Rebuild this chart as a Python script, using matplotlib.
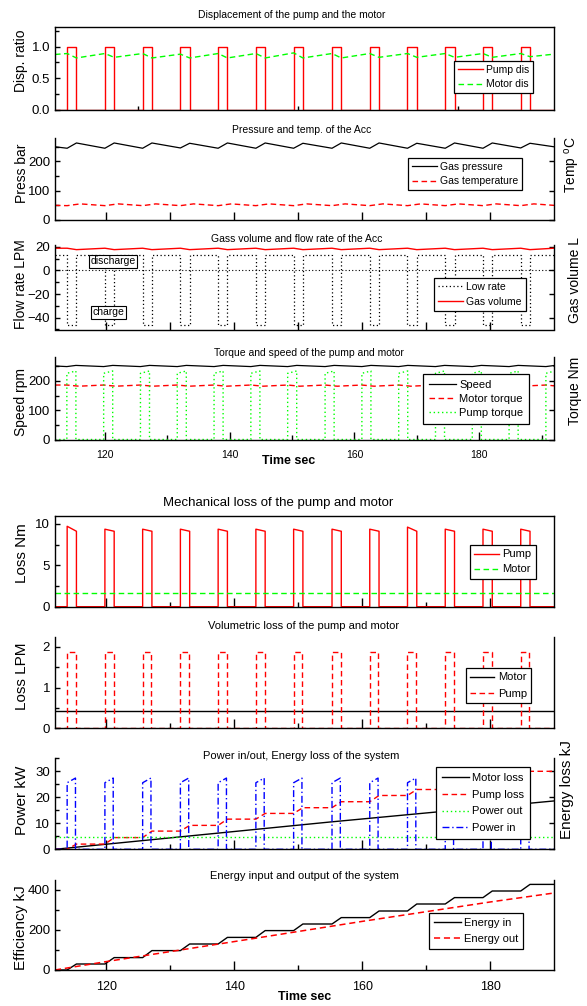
import numpy as np
import matplotlib
matplotlib.use("Agg")
import matplotlib.pyplot as plt
from matplotlib.ticker import MultipleLocator, FixedLocator

plt.rcParams['font.family'] = ['Liberation Sans', 'DejaVu Sans']
plt.rcParams['mathtext.fontset'] = 'custom'
plt.rcParams['mathtext.rm'] = 'Liberation Sans'
plt.rcParams['axes.linewidth'] = 1.0

# ---------------- data ----------------
t_start, t_end = 112.0, 190.0          # s
t_end_torque = 192.0
pulse_t = [113.9, 119.8, 125.7, 131.6, 137.5, 143.4, 149.3,
           155.3, 161.2, 167.1, 173.0, 178.9, 184.8]   # pump on
pulse_t_torque = pulse_t + [190.7]
pulse_w = 1.45                                       # pump on time, s

# displacement
pump_dis_on = 1.0
motor_dis_peak = [0.89, 0.89, 0.89, 0.88, 0.89, 0.89, 0.90, 0.89, 0.89, 0.89, 0.89, 0.89, 0.89]
motor_dis_dip = [0.82, 0.83, 0.82, 0.82, 0.82, 0.82, 0.82, 0.82, 0.83, 0.83, 0.83, 0.83, 0.84]
motor_dis_ends = [0.875, 0.88]

# accumulator pressure / temperature
gas_p_low = [245, 245, 245, 246, 245, 245, 245, 245, 245, 245, 245, 245, 246]
gas_p_high = [263, 263, 263, 262, 263, 263, 262, 263, 263, 262, 263, 263, 262]
gas_p_ends = [250, 250]
gas_temp_low = 49
gas_temp_high = 55
gas_temp_ends = [50, 50]

# accumulator flow / volume
flow_discharge = 13
flow_charge = -46
gas_vol_high = 18.7
gas_vol_low = 17.5

# torque / speed
speed_on = 249
speed_off = 253
speed_ends = [251, 251]
motor_tq_on = 186
motor_tq_off = 182
pump_tq_a = 226
pump_tq_b = 234

# mechanical loss
mech_pump_a = [9.7, 9.35, 9.35, 9.35, 9.35, 9.35, 9.35, 9.35, 9.35, 9.6, 9.35, 9.35, 9.35]
mech_pump_b = 9.1
mech_motor = 1.7

# volumetric loss
vol_pump = 1.87
vol_motor = 0.42

# power / energy loss
power_in_a = 25.6
power_in_b = 27.4
power_out = 4.9
motor_loss_t = [112, 155, 190]
motor_loss = [0, 10.5, 18.6]
pump_loss_steps = [2.0, 4.5, 7.0, 9.2, 11.6, 13.8, 16.0, 18.3, 20.7, 23.0, 25.3, 27.6, 30.0]

# energy in / out
energy_in_steps = [30, 62, 97, 130, 163, 197, 230, 262, 295, 330, 362, 395, 428]
energy_out_t = [112, 120, 140, 160, 180, 190]
energy_out = [0, 42, 142, 243, 340, 385]


# ---------------- helpers ----------------
def _arr(v, n):
    return np.broadcast_to(np.asarray(v, dtype=float), (n,))


def pulses(starts, width, top_a, top_b, t0, t1, base=0.0):
    n = len(starts)
    t, y = [t0], [base]
    for s, a, b in zip(starts, _arr(top_a, n), _arr(top_b, n)):
        t += [s, s, s + width, s + width]
        y += [base, a, b, base]
    t.append(t1)
    y.append(base)
    return t, y


def cycles(starts, width, at_on, at_off, t0, y0, t1, y1):
    n = len(starts)
    t, y = [t0], [y0]
    for s, a, b in zip(starts, _arr(at_on, n), _arr(at_off, n)):
        t += [s, s + width]
        y += [a, b]
    t.append(t1)
    y.append(y1)
    return t, y


def stairs(starts, width, levels, t0, t1, y0=0.0):
    t, y = [t0], [y0]
    prev = y0
    for s, v in zip(starts, levels):
        t += [s, s + width]
        y += [prev, v]
        prev = v
    t.append(t1)
    y.append(prev)
    return t, y


W, H = 587, 1006
fig = plt.figure(figsize=(W / 100, H / 100), dpi=100)

RED, GREEN, BLUE = '#ff0000', '#00ff00', '#0000ff'
DASH = (0, (4, 2.5))
DOT = (0, (1, 2))


def new_axes(l, t, r, b, box=False):
    ax = fig.add_axes([l / W, 1 - b / H, (r - l) / W, (b - t) / H])
    ax.spines['top'].set_visible(box)
    ax.tick_params(which='both', direction='in', top=False, right=False,
                   labelbottom=False, labelsize=9.5, width=1.0)
    ax.tick_params(which='major', axis='y', length=3.6)
    ax.tick_params(which='minor', axis='y', length=2.9)
    return ax


def title_at(x, y, s, fs):
    fig.text(x / W, 1 - y / H, s, ha='center', va='baseline', fontsize=fs)


def ylabel_at(x, y, s, fs):
    fig.text(x / W, 1 - y / H, s, ha='center', va='center', rotation=90, fontsize=fs)


def legend_at(ax, x, y, fs, ls=0.5, bp=0.5, hl=2.4):
    leg = ax.legend(loc='upper left', bbox_to_anchor=(x / W, 1 - y / H),
                    bbox_transform=fig.transFigure, borderaxespad=0, fontsize=fs,
                    frameon=True, fancybox=False, framealpha=1, edgecolor='black',
                    handlelength=hl, handletextpad=0.3, borderpad=bp, labelspacing=ls)
    leg.get_frame().set_linewidth(0.9)
    return leg


# ================= top group =================
L, R = 55, 554

# --- displacement
ax = new_axes(L, 27.5, R, 110, box=True)
t, y = pulses(pulse_t, pulse_w, pump_dis_on, pump_dis_on, t_start, t_end)
ax.plot(t, y, color=RED, lw=1.0, label='Pump dis')
t, y = cycles(pulse_t, pulse_w, motor_dis_peak, motor_dis_dip,
              t_start, motor_dis_ends[0], t_end, motor_dis_ends[1])
ax.plot(t, y, color=GREEN, lw=1.0, ls=DASH, label='Motor dis')
ax.set_xlim(t_start, t_end)
ax.set_ylim(0, 1.3)
ax.xaxis.set_major_locator(FixedLocator([125, 150, 175]))
ax.tick_params(axis='x', length=3)
ax.yaxis.set_major_locator(MultipleLocator(0.5))
ax.yaxis.set_minor_locator(MultipleLocator(0.25))
ax.yaxis.set_major_formatter('{x:.1f}')
legend_at(ax, 454, 61, 7.5, ls=0.45, bp=0.35)
title_at(292, 18, 'Displacement of the pump and the motor', 7.5)
ylabel_at(21.5, 61, 'Disp. ratio', 10)

# --- pressure and temperature
ax = new_axes(L, 138, R, 220)
t, y = cycles(pulse_t, pulse_w, gas_p_low, gas_p_high, t_start, gas_p_ends[0], t_end, gas_p_ends[1])
ax.plot(t, y, color='black', lw=0.9, label='Gas pressure')
t, y = cycles(pulse_t, pulse_w + 0.6, gas_temp_low, gas_temp_high,
              t_start, gas_temp_ends[0], t_end, gas_temp_ends[1])
ax.plot(t, y, color=RED, lw=1.0, ls=DASH, label='Gas temperature')
ax.set_xlim(t_start, t_end)
ax.set_ylim(0, 280)
ax.xaxis.set_major_locator(FixedLocator(range(120, 190, 10)))
ax.tick_params(axis='x', length=5.5)
ax.yaxis.set_major_locator(MultipleLocator(100))
ax.yaxis.set_minor_locator(MultipleLocator(50))
ax.tick_params(which='major', axis='y', right=True)
legend_at(ax, 408, 158, 7.5, ls=0.45, bp=0.35)
title_at(302, 133, 'Pressure and temp. of the Acc', 7.5)
ylabel_at(21.5, 173.5, 'Press bar', 10)
ylabel_at(573, 165, 'Temp $^\\mathrm{o}$C', 10)

# --- flow rate and gas volume
ax = new_axes(L, 245.5, R, 329.5)
t, y = pulses(pulse_t, pulse_w, flow_charge, flow_charge, t_start, t_end, base=flow_discharge)
ax.plot(t, y, color='black', lw=0.9, ls=DOT, label='Low rate')
ax.axhline(0, color='black', lw=0.8, ls=DOT)
t, y = cycles(pulse_t, pulse_w, gas_vol_high, gas_vol_low, t_start, gas_vol_high, t_end, gas_vol_high)
ax.plot(t, y, color=RED, lw=1.0, label='Gas volume')
ax.set_xlim(t_start, t_end)
ax.set_ylim(-50, 21)
ax.xaxis.set_major_locator(FixedLocator(range(120, 190, 10)))
ax.tick_params(axis='x', length=5.5)
ax.yaxis.set_major_locator(MultipleLocator(20))
ax.yaxis.set_minor_locator(MultipleLocator(10))
ax.tick_params(which='major', axis='y', right=True)
box = dict(boxstyle='square,pad=0.15', fc='white', ec='black', lw=0.8)
ax.text(121.1, 7.8, 'discharge', fontsize=7.5, ha='center', va='center', bbox=box)
ax.text(120.3, -35.4, 'charge', fontsize=7.5, ha='center', va='center', bbox=box)
legend_at(ax, 434, 277.7, 7.5, ls=0.45, bp=0.4)
title_at(297, 242, 'Gass volume and flow rate of the Acc', 7.5)
ylabel_at(21.5, 284, 'Flow rate LPM', 10)
ylabel_at(575, 280, 'Gas volume L', 10)

# --- torque and speed
ax = new_axes(L, 357.5, R, 439.5)
t, y = cycles(pulse_t_torque, pulse_w, speed_on, speed_off, t_start, speed_ends[0],
              t_end_torque, speed_ends[1])
ax.plot(t, y, color='black', lw=0.9, label='Speed')
t, y = cycles(pulse_t_torque, pulse_w + 0.5, motor_tq_on, motor_tq_off, t_start, motor_tq_on,
              t_end_torque, motor_tq_on)
ax.plot(t, y, color=RED, lw=1.0, ls=DASH, label='Motor torque')
t, y = pulses(pulse_t_torque, pulse_w, pump_tq_a, pump_tq_b, t_start, t_end_torque)
ax.plot(t, y, color=GREEN, lw=1.0, ls=DOT, label='Pump torque')
ax.set_xlim(t_start, t_end_torque)
ax.set_ylim(0, 280)
ax.xaxis.set_major_locator(FixedLocator([120, 140, 160, 180]))
ax.xaxis.set_minor_locator(FixedLocator([130, 150, 170, 190]))
ax.tick_params(axis='x', which='major', length=6, labelbottom=True, labelsize=7.5, pad=7.5)
ax.tick_params(axis='x', which='minor', length=3.6)
ax.yaxis.set_major_locator(MultipleLocator(100))
ax.yaxis.set_minor_locator(MultipleLocator(50))
ax.tick_params(which='major', axis='y', right=True)
legend_at(ax, 423, 374, 8, ls=0.35, bp=0.55)
title_at(309, 355.5, 'Torque and speed of the pump and motor', 7.5)
ylabel_at(21.5, 401.5, 'Speed rpm', 10)
ylabel_at(575, 391, 'Torque Nm', 10)
fig.text(289 / W, 1 - 461 / H, 'Time sec', ha='center', va='center', fontsize=9, fontweight='bold')

# ================= bottom group =================


def bottom_x(ax, labels=False):
    ax.set_xlim(t_start, t_end)
    ax.xaxis.set_major_locator(FixedLocator([120, 140, 160, 180]))
    ax.xaxis.set_minor_locator(FixedLocator([130, 150, 170]))
    ax.tick_params(axis='x', which='major', length=6.5, labelbottom=labels, labelsize=9, pad=8)
    ax.tick_params(axis='x', which='minor', length=3.6)


# --- mechanical loss
ax = new_axes(L, 515.5, R, 606.7, box=True)
t, y = pulses(pulse_t, pulse_w, mech_pump_a, mech_pump_b, t_start, t_end)
ax.plot(t, y, color=RED, lw=1.0, label='Pump')
ax.plot([t_start, t_end], [mech_motor, mech_motor], color=GREEN, lw=1.0, ls=DASH, label='Motor')
bottom_x(ax)
ax.set_ylim(0, 11)
ax.yaxis.set_major_locator(MultipleLocator(5))
ax.yaxis.set_minor_locator(MultipleLocator(2.5))
legend_at(ax, 470, 545, 8, ls=0.45, bp=0.4, hl=2.2)
title_at(278, 506, 'Mechanical loss of the pump and motor', 9.5)
ylabel_at(21.5, 553, 'Loss Nm', 11)

# --- volumetric loss
ax = new_axes(L, 636.7, R, 728.3)
ax.plot([t_start, t_end], [vol_motor, vol_motor], color='black', lw=1.0, label='Motor')
t, y = pulses(pulse_t, pulse_w - 0.1, vol_pump, vol_pump, t_start, t_end)
ax.plot(t, y, color=RED, lw=1.0, ls=DASH, label='Pump')
bottom_x(ax)
ax.set_ylim(0, 2.25)
ax.yaxis.set_major_locator(MultipleLocator(1))
ax.yaxis.set_minor_locator(MultipleLocator(0.5))
legend_at(ax, 465.5, 668, 8, ls=0.55, bp=0.4, hl=2.2)
title_at(304, 629, 'Volumetric loss of the pump and motor', 8)
ylabel_at(21.5, 676.5, 'Loss LPM', 11)

# --- power and energy loss
ax = new_axes(L, 758.3, R, 849.3)
ax.plot(motor_loss_t, motor_loss, color='black', lw=1.0, label='Motor loss')
t, y = stairs(pulse_t, pulse_w, pump_loss_steps, t_start, t_end)
ax.plot(t, y, color=RED, lw=1.0, ls=DASH, label='Pump loss')
ax.plot([t_start, t_end], [power_out, power_out], color=GREEN, lw=1.0, ls=DOT, label='Power out')
t, y = pulses(pulse_t, pulse_w - 0.15, power_in_a, power_in_b, t_start, t_end)
ax.plot(t, y, color=BLUE, lw=1.0, ls=(0, (5, 2, 1, 2)), label='Power in')
bottom_x(ax)
ax.set_ylim(0, 35)
ax.yaxis.set_major_locator(MultipleLocator(10))
ax.yaxis.set_minor_locator(MultipleLocator(5))
ax.tick_params(which='major', axis='y', right=True)
legend_at(ax, 436, 767, 8, ls=0.6, bp=0.55)
title_at(301, 759, 'Power in/out, Energy loss of the system', 8)
ylabel_at(21.5, 800, 'Power kW', 11)
ylabel_at(567, 790, 'Energy loss kJ', 11)

# --- energy in / out
ax = new_axes(L, 880, R, 970)
t, y = stairs(pulse_t, pulse_w, energy_in_steps, t_start, t_end)
ax.plot(t, y, color='black', lw=1.0, label='Energy in')
ax.plot(energy_out_t, energy_out, color=RED, lw=1.1, ls=DASH, label='Energy out')
bottom_x(ax, labels=True)
ax.set_ylim(0, 450)
ax.yaxis.set_major_locator(MultipleLocator(200))
ax.yaxis.set_minor_locator(MultipleLocator(100))
legend_at(ax, 429, 913, 8, ls=0.5, bp=0.45)
title_at(304, 879, 'Energy input and output of the system', 8)
ylabel_at(21.5, 927.5, 'Efficiency kJ', 11)
fig.text(305 / W, 1 - 997.5 / H, 'Time sec', ha='center', va='center', fontsize=9, fontweight='bold')

fig.savefig('out.png', dpi=100)
